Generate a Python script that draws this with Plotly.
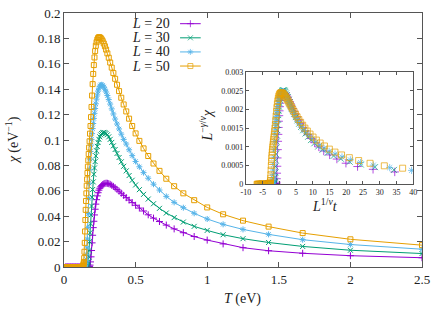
import plotly.graph_objects as go

# Temperature grid (eV) shared by all system sizes
T_grid = [2.5, 2.0, 1.6667, 1.4286, 1.25, 1.1111, 1.0, 0.9091, 0.8333, 0.7692,
          0.7143, 0.6667, 0.625, 0.5882, 0.5556, 0.5263, 0.5, 0.4762, 0.4545, 0.4348,
          0.4167, 0.4, 0.3846, 0.3704, 0.3571, 0.3448, 0.3333, 0.3226, 0.3125, 0.3030,
          0.2941, 0.2857, 0.2778, 0.2703, 0.2632, 0.2564, 0.25, 0.2439, 0.2381, 0.2326,
          0.2273, 0.2222, 0.2174, 0.2128, 0.2083, 0.2041, 0.2, 0.1961, 0.1923, 0.1887,
          0.1852, 0.1818, 0.1786, 0.1754, 0.1724, 0.1695, 0.1667, 0.1639, 0.1613, 0.1587,
          0.1563, 0.1538, 0.1515, 0.1493, 0.1471, 0.1449, 0.1429, 0.1408, 0.1389, 0.1370,
          0.1351, 0.1333, 0.1316, 0.1299, 0.1282, 0.1266, 0.125]
T_low = [0.12, 0.115, 0.11, 0.105, 0.1, 0.095, 0.09, 0.085, 0.08, 0.075, 0.07, 0.065,
         0.06, 0.055, 0.05, 0.045, 0.04, 0.035, 0.03, 0.025, 0.02, 0.015, 0.01]
chi_low = [0.0, 0.0, 0.0, 0.0, 0.0, 0.0, 0.0, 0.0, 0.0, 0.0, 0.0, 0.0,
           0.0, 0.0, 0.0, 0.0, 0.0, 0.0, 0.0, 0.0, 0.0, 0.0, 0.0]

chi_L20 = [0.0073, 0.0089, 0.0108, 0.0128, 0.0152, 0.0182, 0.0212, 0.0240, 0.0270, 0.0300,
           0.0330, 0.0358, 0.0385, 0.0411, 0.0441, 0.0464, 0.0486, 0.0507, 0.0527, 0.0546,
           0.0564, 0.0581, 0.0597, 0.0611, 0.0624, 0.0635, 0.0644, 0.0651, 0.0656, 0.0659,
           0.0660, 0.0658, 0.0654, 0.0649, 0.0642, 0.0632, 0.0620, 0.0605, 0.0585, 0.0560,
           0.0530, 0.0495, 0.0455, 0.0410, 0.0360, 0.0310, 0.0250, 0.0190, 0.0130, 0.0080,
           0.0040, 0.0015, 0.0005, 0.0, 0.0, 0.0, 0.0, 0.0, 0.0, 0.0,
           0.0, 0.0, 0.0, 0.0, 0.0, 0.0, 0.0, 0.0, 0.0, 0.0,
           0.0, 0.0, 0.0, 0.0, 0.0, 0.0, 0.0]
chi_L30 = [0.0106, 0.0132, 0.0162, 0.0193, 0.0223, 0.0254, 0.0288, 0.0320, 0.0354, 0.0389,
           0.0425, 0.0462, 0.0498, 0.0535, 0.0572, 0.0609, 0.0646, 0.0683, 0.0720, 0.0757,
           0.0793, 0.0828, 0.0862, 0.0894, 0.0925, 0.0954, 0.0981, 0.1005, 0.1025, 0.1041,
           0.1052, 0.1058, 0.1060, 0.1057, 0.1050, 0.1040, 0.1025, 0.1005, 0.0980, 0.0950,
           0.0915, 0.0875, 0.0830, 0.0780, 0.0730, 0.0670, 0.0610, 0.0550, 0.0480, 0.0410,
           0.0340, 0.0270, 0.0200, 0.0130, 0.0080, 0.0040, 0.0020, 0.0010, 0.0005, 0.0,
           0.0, 0.0, 0.0, 0.0, 0.0, 0.0, 0.0, 0.0, 0.0, 0.0,
           0.0, 0.0, 0.0, 0.0, 0.0, 0.0, 0.0]
chi_L40 = [0.0140, 0.0177, 0.0215, 0.0257, 0.0296, 0.0336, 0.0378, 0.0423, 0.0467, 0.0509,
           0.0556, 0.0606, 0.0652, 0.0699, 0.0743, 0.0789, 0.0831, 0.0877, 0.0923, 0.0968,
           0.1005, 0.1046, 0.1087, 0.1126, 0.1165, 0.1205, 0.1245, 0.1283, 0.1318, 0.1350,
           0.1378, 0.1400, 0.1418, 0.1430, 0.1435, 0.1433, 0.1424, 0.1408, 0.1385, 0.1355,
           0.1322, 0.1285, 0.1248, 0.1210, 0.1170, 0.1130, 0.1090, 0.1050, 0.1005, 0.0960,
           0.0910, 0.0850, 0.0770, 0.0660, 0.0540, 0.0420, 0.0310, 0.0220, 0.0150, 0.0100,
           0.0060, 0.0040, 0.0025, 0.0015, 0.0010, 0.0005, 0.0002, 0.0, 0.0, 0.0,
           0.0, 0.0, 0.0, 0.0, 0.0, 0.0, 0.0]
chi_L50 = [0.0172, 0.0218, 0.0267, 0.0318, 0.0365, 0.0415, 0.0469, 0.0526, 0.0580, 0.0636,
           0.0695, 0.0757, 0.0815, 0.0874, 0.0934, 0.0993, 0.1052, 0.1110, 0.1168, 0.1225,
           0.1280, 0.1333, 0.1385, 0.1435, 0.1482, 0.1527, 0.1570, 0.1610, 0.1648, 0.1682,
           0.1712, 0.1738, 0.1760, 0.1778, 0.1792, 0.1802, 0.1808, 0.1810, 0.1803, 0.1790,
           0.1770, 0.1742, 0.1700, 0.1650, 0.1590, 0.1520, 0.1440, 0.1350, 0.1260, 0.1180,
           0.1110, 0.1050, 0.0990, 0.0940, 0.0890, 0.0840, 0.0790, 0.0740, 0.0690, 0.0640,
           0.0580, 0.0520, 0.0450, 0.0370, 0.0280, 0.0190, 0.0120, 0.0070, 0.0040, 0.0025,
           0.0015, 0.0010, 0.0006, 0.0003, 0.0002, 0.0001, 0.0]

sizes = [20, 30, 40, 50]
labels = ["<i>L</i> = 20", "<i>L</i> = 30", "<i>L</i> = 40", "<i>L</i> = 50"]
colors = ["#9400D3", "#009E73", "#56B4E9", "#E69F00"]
symbols = ["cross-thin-open", "x-thin-open", "asterisk-open", "square-open"]

# scaling parameters of the data collapse (inset)
T_c = 0.2277
inv_nu = 0.497
gamma_over_nu = 1.10

T_all = T_grid + T_low
chis = [chi_L20 + chi_low, chi_L30 + chi_low, chi_L40 + chi_low, chi_L50 + chi_low]

W, H = 436, 309
ML, MR, MT, MB = 64, 8, 6, 42
PW, PH = W - ML - MR, H - MT - MB


def px(x):
    return (x - ML) / PW


def py(y):
    return (H - MB - y) / PH


FONT = "Liberation Serif"
fig = go.Figure()

for L, chi, col, sym in zip(sizes, chis, colors, symbols):
    fig.add_trace(go.Scatter(
        x=T_all, y=chi, mode="lines+markers", xaxis="x", yaxis="y",
        line=dict(color=col, width=1),
        marker=dict(symbol=sym, size=5, color=col, line=dict(color=col, width=1)),
        showlegend=False, cliponaxis=True))

for L, chi, col, sym in zip(sizes, chis, colors, symbols):
    xs = [L ** inv_nu * (t - T_c) / T_c for t in T_all]
    ys = [L ** (-gamma_over_nu) * c for c in chi]
    fig.add_trace(go.Scatter(
        x=xs, y=ys, mode="markers", xaxis="x2", yaxis="y2",
        marker=dict(symbol=sym, size=6, color=col, opacity=0.7,
                    line=dict(color=col, width=1)),
        showlegend=False, cliponaxis=True))

# manual key (sample on the right of the text, as in the original)
rows = [17, 31.5, 46, 60.5]
for row, col, sym in zip(rows, colors, symbols):
    fig.add_trace(go.Scatter(
        x=[182, 192.5, 203], y=[row, row, row], mode="lines+markers",
        xaxis="x3", yaxis="y3",
        line=dict(color=col, width=1),
        marker=dict(symbol=sym, size=[0, 5, 0], color=col, line=dict(color=col, width=1)),
        showlegend=False, hoverinfo="skip"))

axis_common = dict(showgrid=False, zeroline=False, showline=True, linecolor="#555",
                   linewidth=1, mirror="ticks", ticks="inside", tickcolor="#555",
                   tickwidth=1)

annotations = []
for row, lab in zip(rows, labels):
    annotations.append(dict(x=px(174), y=py(row), xref="paper", yref="paper",
                            text=lab, showarrow=False, xanchor="right", yanchor="middle",
                            font=dict(family=FONT, size=14, color="#222")))
annotations += [
    dict(x=px(12), y=py(137), xref="paper", yref="paper", textangle=-90,
         xanchor="center", yanchor="middle",
         text="<i>χ</i> (eV<sup>−1</sup>)", showarrow=False,
         font=dict(family=FONT, size=14, color="#222")),
    dict(x=px(245), y=py(300), xref="paper", yref="paper",
         xanchor="center", yanchor="middle",
         text="<i>T</i> (eV)", showarrow=False,
         font=dict(family=FONT, size=14, color="#222")),
    dict(x=px(208), y=py(122), xref="paper", yref="paper", textangle=-90,
         xanchor="center", yanchor="middle",
         text="<i>L</i><sup>−<i>γ</i>/<i>ν</i></sup><i>χ</i>", showarrow=False,
         font=dict(family=FONT, size=14, color="#222")),
    dict(x=px(329), y=py(203), xref="paper", yref="paper",
         xanchor="center", yanchor="middle",
         text="<i>L</i><sup>1/<i>ν</i></sup><i>t</i>", showarrow=False,
         font=dict(family=FONT, size=14, color="#222")),
]

fig.update_layout(
    width=W, height=H,
    margin=dict(l=ML, r=MR, t=MT, b=MB, pad=0),
    paper_bgcolor="white", plot_bgcolor="white",
    font=dict(family=FONT, color="#222"),
    showlegend=False,
    xaxis=dict(domain=[0, 1], anchor="y", range=[0, 2.5],
               tickvals=[0, 0.5, 1, 1.5, 2, 2.5],
               ticktext=["0", "0.5", "1", "1.5", "2", "2.5"],
               ticklen=5, tickfont=dict(family=FONT, size=13, color="#222"),
               **axis_common),
    yaxis=dict(domain=[0, 1], anchor="x", range=[0, 0.2],
               tickvals=[0, 0.02, 0.04, 0.06, 0.08, 0.1, 0.12, 0.14, 0.16, 0.18, 0.2],
               ticktext=["0", "0.02", "0.04", "0.06", "0.08", "0.1", "0.12", "0.14",
                         "0.16", "0.18", "0.2"],
               ticklen=5, tickfont=dict(family=FONT, size=13, color="#222"),
               **axis_common),
    xaxis2=dict(domain=[px(249), px(419)], anchor="y2", range=[-10, 40],
                tickvals=[-10, -5, 0, 5, 10, 15, 20, 25, 30, 35, 40],
                ticktext=["-10", "-5", "0", "5", "10", "15", "20", "25", "30", "35", "40"],
                ticklen=3, tickfont=dict(family=FONT, size=8, color="#222"),
                **axis_common),
    yaxis2=dict(domain=[py(182), py(66.7)], anchor="x2", range=[0, 0.003],
                tickvals=[0, 0.0005, 0.001, 0.0015, 0.002, 0.0025, 0.003],
                ticktext=["0", "0.0005", "0.001", "0.0015", "0.002", "0.0025", "0.003"],
                ticklen=3, tickfont=dict(family=FONT, size=8, color="#222"),
                **axis_common),
    xaxis3=dict(overlaying="x", anchor="y3", range=[ML, W - MR], visible=False),
    yaxis3=dict(overlaying="y", anchor="x3", range=[H - MB, MT], visible=False),
    annotations=annotations,
)

fig.write_html("out.html", config={"displayModeBar": False},
               post_script="document.body.style.margin='0';")
